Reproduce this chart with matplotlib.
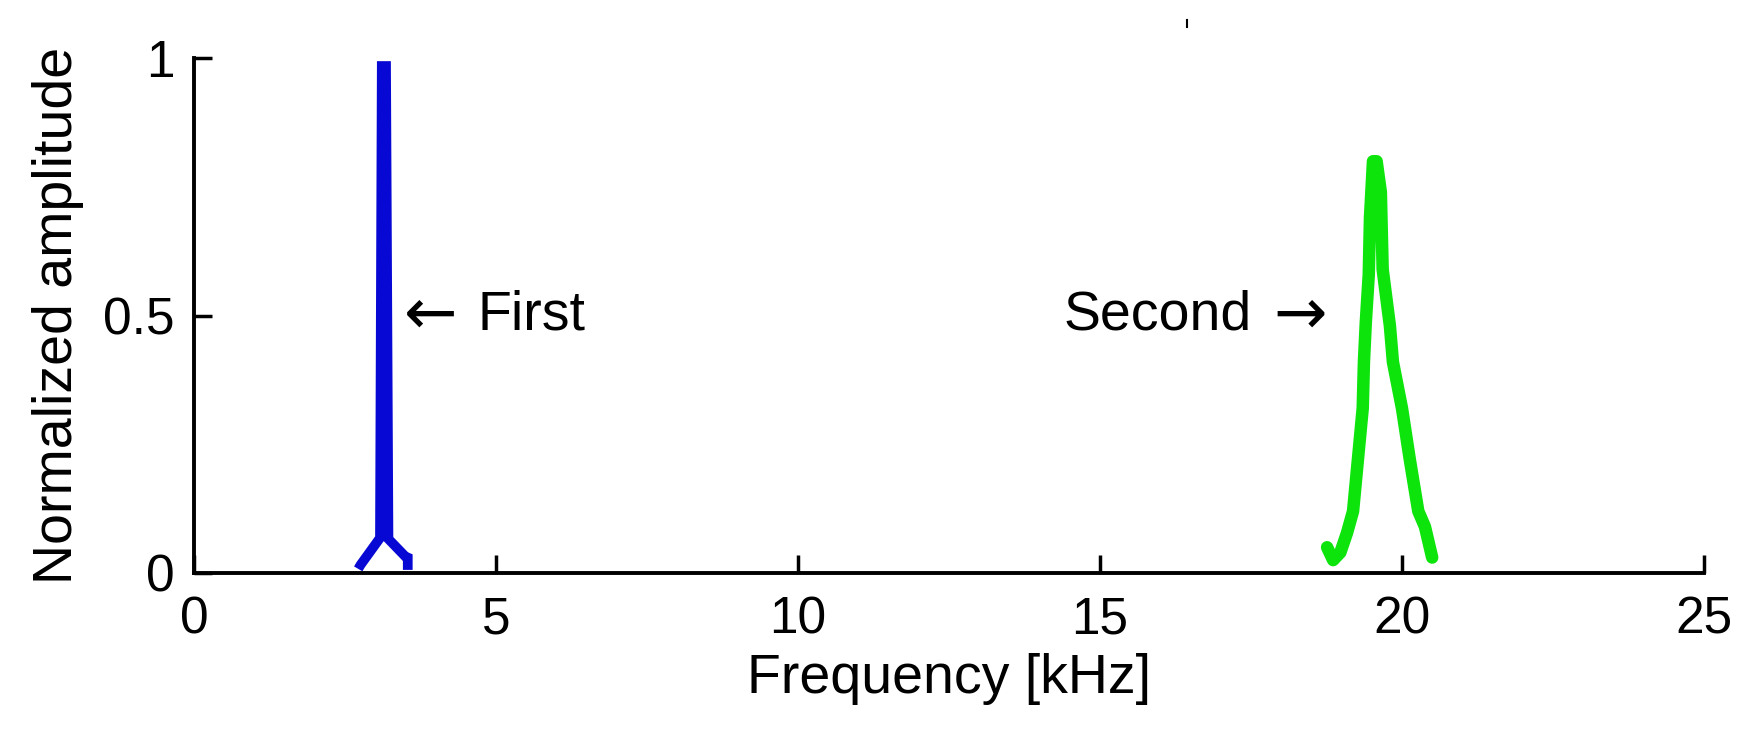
import matplotlib
matplotlib.use("Agg")
import matplotlib.pyplot as plt
from matplotlib.lines import Line2D

# Data (frequency in kHz, normalized amplitude)
first_freq = [2.72, 2.76, 3.08, 3.11, 3.18, 3.22, 3.50, 3.54, 3.54]
first_amp = [0.008, 0.016, 0.068, 0.985, 0.985, 0.066, 0.032, 0.03, 0.006]

second_freq = [18.76, 18.86, 18.98, 19.09, 19.19, 19.27, 19.35, 19.37, 19.40,
               19.45, 19.47, 19.52, 19.58, 19.65, 19.68, 19.80, 19.85, 20.0,
               20.13, 20.27, 20.38, 20.5]
second_amp = [0.05, 0.025, 0.04, 0.078, 0.12, 0.22, 0.32, 0.41, 0.485,
              0.58, 0.69, 0.80, 0.80, 0.74, 0.59, 0.48, 0.41, 0.32,
              0.22, 0.12, 0.09, 0.03]

x_ticks = [0, 5, 10, 15, 20, 25]
y_ticks = [0, 0.5, 1]
y_tick_labels = ["0", "0.5", "1"]

plt.rcParams['font.family'] = ['Liberation Sans', 'DejaVu Sans']

fig = plt.figure(figsize=(17.52, 7.38), dpi=100)
ax = fig.add_axes([0.1107, 0.2236, 0.8619, 0.6974])

ax.plot(first_freq, first_amp, color='#0808d4', linewidth=7.0,
        solid_joinstyle='miter', solid_capstyle='butt')
ax.plot(second_freq, second_amp, color='#0ce40c', linewidth=9.0,
        solid_joinstyle='round', solid_capstyle='round')

ax.set_xlim(0, 25)
ax.set_ylim(0, 1)
ax.set_xticks(x_ticks)
ax.set_xticklabels([str(t) for t in x_ticks])
ax.set_yticks(y_ticks)
ax.set_yticklabels(y_tick_labels)

for s in ['top', 'right']:
    ax.spines[s].set_visible(False)
for s in ['left', 'bottom']:
    ax.spines[s].set_linewidth(2.8)
    ax.spines[s].set_color('black')

ax.tick_params(direction='in', length=13, width=2.5, labelsize=37, pad=14,
               colors='black')
ax.tick_params(axis='x', pad=16)

ax.set_xlabel('Frequency [kHz]', fontsize=40, labelpad=6)
ax.set_ylabel('Normalized amplitude', fontsize=40, labelpad=14)

arrow_font = ['DejaVu Sans']
ax.text(3.48, 0.5, '\u2190', fontsize=46, ha='left', va='center',
        family=arrow_font)
ax.text(4.70, 0.5, 'First', fontsize=40, ha='left', va='center')
ax.text(17.52, 0.5, 'Second', fontsize=40, ha='right', va='center')
ax.text(18.75, 0.5, '\u2192', fontsize=46, ha='right', va='center',
        family=arrow_font)

# small speck at top of original figure
fig.add_artist(Line2D([0.6775, 0.6775], [0.963, 0.973], color='black',
                      linewidth=1.5, transform=fig.transFigure))

fig.savefig('out.png', dpi=100, facecolor='white')
